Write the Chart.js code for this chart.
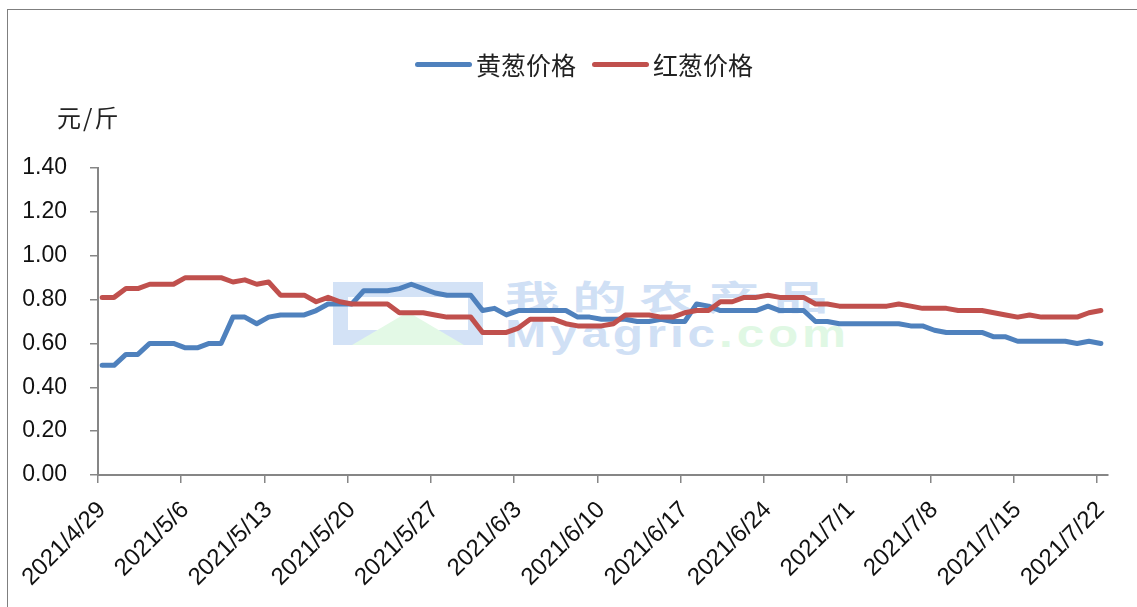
<!DOCTYPE html>
<html><head><meta charset="utf-8">
<script src="https://cdn.jsdelivr.net/npm/chart.js@4.4.0/dist/chart.umd.min.js"></script>
<style>
html,body{margin:0;padding:0;background:#fff;}
#wrap{position:relative;width:1137px;height:607px;overflow:hidden;background:#fff;}
#frame{position:absolute;left:7px;top:9px;width:1400px;height:900px;border-left:1px solid #7f7f7f;border-top:1px solid #7f7f7f;}
#c{position:absolute;left:0;top:0;z-index:2;}
.wm{position:absolute;z-index:1;font-weight:700;white-space:nowrap;transform-origin:0 0;}
#logo{position:absolute;z-index:1;left:333px;top:282px;width:120px;height:33px;border:15px solid #d3e2f6;}
#logoTri{position:absolute;z-index:1;left:352px;top:312px;width:0;height:0;border-left:56px solid transparent;border-right:56px solid transparent;border-bottom:33px solid #e3f9e6;}
.leg{position:absolute;z-index:3;font-family:"Noto Sans CJK SC",sans-serif;font-size:25px;color:#222;white-space:nowrap;line-height:30px;}
.sw{position:absolute;z-index:3;height:5px;border-radius:3px;}
#unit{position:absolute;z-index:3;left:57px;top:102px;font-family:"Noto Sans CJK SC",sans-serif;font-size:24px;color:#222;letter-spacing:2px;line-height:30px;}
</style></head>
<body>
<div id="wrap">
  <div id="frame"></div>
  <div id="logo"></div>
  <div id="logoTri"></div>
  <div class="wm" style="left:505px;top:274px;font-family:'Noto Sans CJK SC',sans-serif;font-size:34px;line-height:44px;color:#d0e0f5;letter-spacing:8px;transform:scaleX(1.6);">我的农产品</div>
  <div class="wm" style="left:505px;top:314px;font-family:'Liberation Sans',sans-serif;font-size:38px;line-height:40px;color:#d0e0f5;letter-spacing:3px;transform:scaleX(1.3);">Myagric<span style="color:#e0f8e4">.com</span></div>
  <canvas id="c" width="1137" height="607"></canvas>
  <div class="sw" style="left:415px;top:62px;width:57px;background:#4F81BD;"></div>
  <div class="leg" style="left:476px;top:49px;">黄葱价格</div>
  <div class="sw" style="left:592px;top:62px;width:57px;background:#C0504D;"></div>
  <div class="leg" style="left:653px;top:49px;">红葱价格</div>
  <div id="unit">元/斤</div>
</div>
<script>
const seriesNames = ['黄葱价格', '红葱价格'];
const categories = [
 '2021/4/29','2021/4/30',
 '2021/5/1','2021/5/2','2021/5/3','2021/5/4','2021/5/5','2021/5/6','2021/5/7','2021/5/8','2021/5/9','2021/5/10',
 '2021/5/11','2021/5/12','2021/5/13','2021/5/14','2021/5/15','2021/5/16','2021/5/17','2021/5/18','2021/5/19','2021/5/20',
 '2021/5/21','2021/5/22','2021/5/23','2021/5/24','2021/5/25','2021/5/26','2021/5/27','2021/5/28','2021/5/29','2021/5/30','2021/5/31',
 '2021/6/1','2021/6/2','2021/6/3','2021/6/4','2021/6/5','2021/6/6','2021/6/7','2021/6/8','2021/6/9','2021/6/10',
 '2021/6/11','2021/6/12','2021/6/13','2021/6/14','2021/6/15','2021/6/16','2021/6/17','2021/6/18','2021/6/19','2021/6/20',
 '2021/6/21','2021/6/22','2021/6/23','2021/6/24','2021/6/25','2021/6/26','2021/6/27','2021/6/28','2021/6/29','2021/6/30',
 '2021/7/1','2021/7/2','2021/7/3','2021/7/4','2021/7/5','2021/7/6','2021/7/7','2021/7/8','2021/7/9','2021/7/10',
 '2021/7/11','2021/7/12','2021/7/13','2021/7/14','2021/7/15','2021/7/16','2021/7/17','2021/7/18','2021/7/19','2021/7/20',
 '2021/7/21','2021/7/22'
];
const yellowOnion = [
 0.50,0.50,0.55,0.55,0.60,0.60,0.60,0.58,0.58,0.60,
 0.60,0.72,0.72,0.69,0.72,0.73,0.73,0.73,0.75,0.78,
 0.78,0.78,0.84,0.84,0.84,0.85,0.87,0.85,0.83,0.82,
 0.82,0.82,0.75,0.76,0.73,0.75,0.75,0.75,0.75,0.75,
 0.72,0.72,0.71,0.71,0.71,0.70,0.70,0.71,0.70,0.70,
 0.78,0.77,0.75,0.75,0.75,0.75,0.77,0.75,0.75,0.75,
 0.70,0.70,0.69,0.69,0.69,0.69,0.69,0.69,0.68,0.68,
 0.66,0.65,0.65,0.65,0.65,0.63,0.63,0.61,0.61,0.61,
 0.61,0.61,0.60,0.61,0.60
];
const redOnion = [
 0.81,0.81,0.85,0.85,0.87,0.87,0.87,0.90,0.90,0.90,
 0.90,0.88,0.89,0.87,0.88,0.82,0.82,0.82,0.79,0.81,
 0.79,0.78,0.78,0.78,0.78,0.74,0.74,0.74,0.73,0.72,
 0.72,0.72,0.65,0.65,0.65,0.67,0.71,0.71,0.71,0.69,
 0.68,0.68,0.68,0.69,0.73,0.73,0.73,0.72,0.72,0.74,
 0.75,0.75,0.79,0.79,0.81,0.81,0.82,0.81,0.81,0.81,
 0.78,0.78,0.77,0.77,0.77,0.77,0.77,0.78,0.77,0.76,
 0.76,0.76,0.75,0.75,0.75,0.74,0.73,0.72,0.73,0.72,
 0.72,0.72,0.72,0.74,0.75
];
const tickLabels = ['2021/4/29','2021/5/6','2021/5/13','2021/5/20','2021/5/27','2021/6/3','2021/6/10',
 '2021/6/17','2021/6/24','2021/7/1','2021/7/8','2021/7/15','2021/7/22'];
const yTicks = [0, 0.2, 0.4, 0.6, 0.8, 1.0, 1.2, 1.4];

const tickIdx = tickLabels.map(t => categories.indexOf(t));
const SHIFT = 0.35;
const axisGrey = '#868686';
const tickFont = {family: '"Liberation Sans", Arial, sans-serif', size: 23};
const xTickFont = {family: '"Liberation Sans", Arial, sans-serif', size: 24};

new Chart(document.getElementById('c'), {
  type: 'line',
  data: {
    datasets: [
      {label: seriesNames[0], data: yellowOnion.map((v,i)=>({x:i, y:v})), borderColor:'#4F81BD', backgroundColor:'#4F81BD',
       borderWidth:5, pointRadius:0, borderCapStyle:'round', borderJoinStyle:'round', tension:0, order:1},
      {label: seriesNames[1], data: redOnion.map((v,i)=>({x:i, y:v})), borderColor:'#C0504D', backgroundColor:'#C0504D',
       borderWidth:5, pointRadius:0, borderCapStyle:'round', borderJoinStyle:'round', tension:0, order:0}
    ]
  },
  options: {
    responsive:false, animation:false, devicePixelRatio:1, events:[],
    layout:{padding:{left:0, top:168, right:29, bottom:0}},
    plugins:{legend:{display:false}, tooltip:{enabled:false}, title:{display:false}},
    scales:{
      x:{
        type:'linear', min:-SHIFT, max:categories.length - 1 + 0.6,
        afterBuildTicks:(s)=>{ s.ticks = tickIdx.map(i=>({value:i - SHIFT})); },
        afterFit:(s)=>{ s.height = 132; },
        ticks:{autoSkip:false, maxRotation:45, minRotation:45, padding:13, labelOffset:4, color:'#111', font:xTickFont,
          callback:(v,i)=>tickLabels[i]},
        grid:{drawOnChartArea:false, drawTicks:true, tickLength:8, color:axisGrey, lineWidth:1.5},
        border:{display:true, color:axisGrey, width:2}
      },
      y:{
        min:0, max:1.4,
        afterBuildTicks:(s)=>{ s.ticks = yTicks.map(v=>({value:v})); },
        afterFit:(s)=>{ s.width = 98; },
        ticks:{padding:23, color:'#111', font:tickFont, callback:(v)=>Number(v).toFixed(2)},
        grid:{drawOnChartArea:false, drawTicks:true, tickLength:8, color:axisGrey, lineWidth:1.5},
        border:{display:true, color:axisGrey, width:2}
      }
    }
  }
});
</script>
</body></html>
